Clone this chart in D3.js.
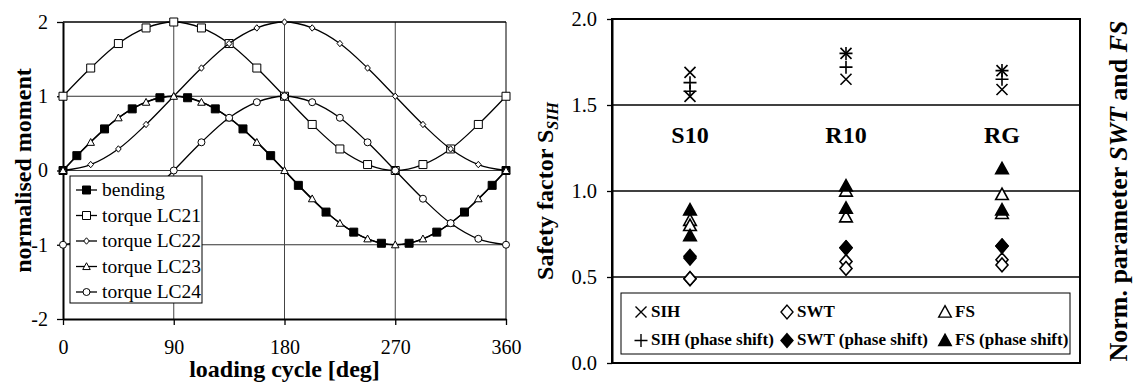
<!DOCTYPE html>
<html>
<head>
<meta charset="utf-8">
<script src="https://cdn.jsdelivr.net/npm/d3@7"></script>
<style>
  html, body { margin: 0; padding: 0; background: #fff; }
  svg text { font-family: "Liberation Serif", "Times New Roman", serif; fill: #000; }
</style>
</head>
<body>
<div id="chart"></div>
<script>
// ---------- left panel: normalised moment over one loading cycle ----------
const cycleDeg = [0, 22.5, 45, 67.5, 90, 112.5, 135, 157.5, 180, 202.5, 225, 247.5, 270, 292.5, 315, 337.5, 360];
const bendingDeg = [0, 11.25, 33.75, 56.25, 78.75, 101.25, 123.75, 146.25, 168.75, 191.25, 213.75, 236.25, 258.75, 281.25, 303.75, 326.25, 348.75, 360];
const bending = [0, 0.20, 0.56, 0.83, 0.98, 0.98, 0.83, 0.56, 0.20, -0.20, -0.56, -0.83, -0.98, -0.98, -0.83, -0.56, -0.20, 0];
const torqueLC21 = [1, 1.38, 1.71, 1.92, 2, 1.92, 1.71, 1.38, 1, 0.62, 0.29, 0.08, 0, 0.08, 0.29, 0.62, 1];
const torqueLC22 = [0, 0.08, 0.29, 0.62, 1, 1.38, 1.71, 1.92, 2, 1.92, 1.71, 1.38, 1, 0.62, 0.29, 0.08, 0];
const torqueLC23 = [0, 0.38, 0.71, 0.92, 1, 0.92, 0.71, 0.38, 0, -0.38, -0.71, -0.92, -1, -0.92, -0.71, -0.38, 0];
const torqueLC24 = [-1, -0.92, -0.71, -0.38, 0, 0.38, 0.71, 0.92, 1, 0.92, 0.71, 0.38, 0, -0.38, -0.71, -0.92, -1];
const momentTicks = [-2, -1, 0, 1, 2];
const cycleTicks = [0, 90, 180, 270, 360];

// ---------- right panel: safety factor / normalised parameters ----------
const gearTypes = ['S10', 'R10', 'RG'];
const sih = [[1.69, 1.55], [1.80, 1.65], [1.70, 1.59]];
const sihShift = [[1.63, 1.58], [1.80, 1.72], [1.70, 1.65]];
const swt = [[0.49, 0.49], [0.59, 0.55], [0.60, 0.57]];
const swtShift = [[0.62, 0.61], [0.67, 0.67], [0.68, 0.68]];
const fs = [[0.83, 0.80], [1.00, 0.85], [0.98, 0.87]];
const fsShift = [[0.89, 0.74], [1.03, 0.90], [1.13, 0.89]];
const factorTicks = [0, 0.5, 1, 1.5, 2];

// custom marker shapes, size = r*r
const shape = {
  square: { draw(c, s) { const r = Math.sqrt(s); c.rect(-r, -r, 2 * r, 2 * r); } },
  circle: { draw(c, s) { const r = Math.sqrt(s); c.moveTo(r, 0); c.arc(0, 0, r, 0, 2 * Math.PI); } },
  diamond: { draw(c, s) { const r = Math.sqrt(s); c.moveTo(0, -r * 1.15); c.lineTo(r, 0); c.lineTo(0, r * 1.15); c.lineTo(-r, 0); c.closePath(); } },
  triangle: { draw(c, s) { const r = Math.sqrt(s); c.moveTo(0, -r * 1.05); c.lineTo(r * 1.05, r * 0.85); c.lineTo(-r * 1.05, r * 0.85); c.closePath(); } },
  times: { draw(c, s) { const r = Math.sqrt(s); c.moveTo(-r, -r); c.lineTo(r, r); c.moveTo(-r, r); c.lineTo(r, -r); } },
  plus: { draw(c, s) { const r = Math.sqrt(s); c.moveTo(-r, 0); c.lineTo(r, 0); c.moveTo(0, -r); c.lineTo(0, r); } }
};
const sym = (type, r) => d3.symbol().type(shape[type]).size(r * r)();

const svg = d3.select('#chart').append('svg')
  .attr('width', 1133)
  .attr('height', 383);

// ================= LEFT PANEL =================
const x = d3.scaleLinear().domain([0, 360]).range([63, 506]);
const y = d3.scaleLinear().domain([-2, 2]).range([319, 22]);

const left = svg.append('g');

// grid
left.selectAll('.hgrid')
  .data([-1, 0, 1])
  .enter().append('line')
  .attr('x1', x(0)).attr('x2', x(360))
  .attr('y1', d => y(d)).attr('y2', d => y(d))
  .attr('stroke', '#333').attr('stroke-width', 1);

left.selectAll('.vgrid')
  .data([90, 180, 270])
  .enter().append('line')
  .attr('x1', d => x(d)).attr('x2', d => x(d))
  .attr('y1', y(2)).attr('y2', y(-2))
  .attr('stroke', '#444').attr('stroke-width', 1);

// frame top + right
left.append('line').attr('x1', x(0)).attr('x2', x(360)).attr('y1', y(2)).attr('y2', y(2))
  .attr('stroke', '#000').attr('stroke-width', 1.6);
left.append('line').attr('x1', x(360)).attr('x2', x(360)).attr('y1', y(2)).attr('y2', y(-2))
  .attr('stroke', '#000').attr('stroke-width', 1);

// axes
const yAxisL = left.append('g')
  .attr('transform', `translate(${x(0)},0)`)
  .call(d3.axisLeft(y).tickValues(momentTicks).tickSize(6).tickSizeOuter(0).tickPadding(9)
    .tickFormat(d => d < 0 ? '-' + Math.abs(d) : d));
const xAxisL = left.append('g')
  .attr('transform', `translate(0,${y(-2)})`)
  .call(d3.axisBottom(x).tickValues(cycleTicks).tickSize(6).tickSizeOuter(0).tickPadding(15));

[yAxisL, xAxisL].forEach(a => {
  a.select('.domain').attr('stroke', '#000').attr('stroke-width', 2);
  a.selectAll('.tick line').attr('stroke', '#000').attr('stroke-width', 1.3);
  a.selectAll('.tick text').style('font-size', '20px').style('font-family', '"Liberation Serif", serif');
});

// series
const leftSeries = [
  { name: 'bending', xs: bendingDeg, ys: bending, marker: 'square', r: 4, fill: '#000' },
  { name: 'torque LC21', xs: cycleDeg, ys: torqueLC21, marker: 'square', r: 4, fill: '#fff' },
  { name: 'torque LC22', xs: cycleDeg, ys: torqueLC22, marker: 'diamond', r: 2.8, fill: '#fff' },
  { name: 'torque LC23', xs: cycleDeg, ys: torqueLC23, marker: 'triangle', r: 3.6, fill: '#fff' },
  { name: 'torque LC24', xs: cycleDeg, ys: torqueLC24, marker: 'circle', r: 3.5, fill: '#fff' }
];

const line = d3.line()
  .x(d => x(d[0]))
  .y(d => y(d[1]))
  .curve(d3.curveCatmullRom.alpha(0.5));

leftSeries.forEach(s => {
  const pts = s.xs.map((v, i) => [v, s.ys[i]]);
  const g = left.append('g');
  g.append('path')
    .datum(pts)
    .attr('d', line)
    .attr('fill', 'none')
    .attr('stroke', '#000')
    .attr('stroke-width', 1.3);
  g.selectAll('.m')
    .data(pts)
    .enter().append('path')
    .attr('transform', d => `translate(${x(d[0])},${y(d[1])})`)
    .attr('d', sym(s.marker, s.r))
    .attr('fill', s.fill)
    .attr('stroke', '#000')
    .attr('stroke-width', 1);
});

// legend
const legL = left.append('g');
legL.append('rect')
  .attr('x', 70).attr('y', 176).attr('width', 132).attr('height', 127)
  .attr('fill', '#fff').attr('stroke', '#000').attr('stroke-width', 1);
leftSeries.forEach((s, i) => {
  const ly = 190 + i * 25.5;
  legL.append('line').attr('x1', 76).attr('x2', 97).attr('y1', ly).attr('y2', ly)
    .attr('stroke', '#000').attr('stroke-width', 1.3);
  legL.append('path')
    .attr('transform', `translate(86.5,${ly})`)
    .attr('d', sym(s.marker, s.r))
    .attr('fill', s.fill).attr('stroke', '#000').attr('stroke-width', 1);
  legL.append('text')
    .attr('x', 102).attr('y', ly).attr('dy', '0.33em')
    .style('font-size', '19.5px')
    .text(s.name);
});

// titles
left.append('text')
  .attr('x', (x(0) + x(360)) / 2).attr('y', 377)
  .attr('text-anchor', 'middle')
  .style('font-size', '24px').style('font-weight', 'bold')
  .text('loading cycle [deg]');
left.append('text')
  .attr('transform', `translate(23,${y(0)}) rotate(-90)`)
  .attr('text-anchor', 'middle').attr('dy', '0.35em')
  .style('font-size', '24px').style('font-weight', 'bold')
  .text('normalised moment');

// ================= RIGHT PANEL =================
const xr = d3.scaleBand().domain(gearTypes).range([612, 1080]);
const yr = d3.scaleLinear().domain([0, 2]).range([363, 19]);

const right = svg.append('g');

right.selectAll('.hgrid')
  .data([0.5, 1, 1.5])
  .enter().append('line')
  .attr('x1', 612).attr('x2', 1080)
  .attr('y1', d => yr(d)).attr('y2', d => yr(d))
  .attr('stroke', '#000').attr('stroke-width', 1.3);

right.append('rect')
  .attr('x', 612).attr('y', yr(2)).attr('width', 1080 - 612).attr('height', yr(0) - yr(2))
  .attr('fill', 'none').attr('stroke', '#000').attr('stroke-width', 2);

const yAxisR = right.append('g')
  .attr('transform', 'translate(612,0)')
  .call(d3.axisLeft(yr).tickValues(factorTicks).tickSize(5).tickSizeOuter(0).tickPadding(10)
    .tickFormat(d3.format('.1f')));
yAxisR.select('.domain').attr('stroke', '#000').attr('stroke-width', 2);
yAxisR.selectAll('.tick line').attr('stroke', '#000').attr('stroke-width', 1.3);
yAxisR.selectAll('.tick text').style('font-size', '20.5px').style('font-family', '"Liberation Serif", serif');

// category labels
right.selectAll('.cat')
  .data(gearTypes)
  .enter().append('text')
  .attr('x', d => xr(d) + xr.bandwidth() / 2)
  .attr('y', 143)
  .attr('text-anchor', 'middle')
  .style('font-size', '24px').style('font-weight', 'bold')
  .text(d => d);

const rightSeries = [
  { name: 'SIH', vals: sih, marker: 'times', r: 5.5, fill: 'none' },
  { name: 'SWT', vals: swt, marker: 'diamond', r: 6, fill: '#fff' },
  { name: 'FS', vals: fs, marker: 'triangle', r: 6, fill: '#fff' },
  { name: 'SIH (phase shift)', vals: sihShift, marker: 'plus', r: 6.5, fill: 'none' },
  { name: 'SWT (phase shift)', vals: swtShift, marker: 'diamond', r: 6, fill: '#000' },
  { name: 'FS (phase shift)', vals: fsShift, marker: 'triangle', r: 6, fill: '#000' }
];

rightSeries.forEach(s => {
  const pts = [];
  gearTypes.forEach((c, i) => s.vals[i].forEach(v => pts.push([c, v])));
  right.append('g').selectAll('path')
    .data(pts)
    .enter().append('path')
    .attr('transform', d => `translate(${xr(d[0]) + xr.bandwidth() / 2},${yr(d[1])})`)
    .attr('d', sym(s.marker, s.r))
    .attr('fill', s.fill)
    .attr('stroke', '#000')
    .attr('stroke-width', 1.6);
});

// legend
const legR = right.append('g');
legR.append('rect')
  .attr('x', 621).attr('y', 293).attr('width', 449).attr('height', 61)
  .attr('fill', '#fff').attr('stroke', '#000').attr('stroke-width', 1);
const legCols = [641, 787, 945];
rightSeries.forEach((s, i) => {
  const col = i % 3, row = Math.floor(i / 3);
  const lx = legCols[col], ly = 311 + row * 28.5;
  legR.append('path')
    .attr('transform', `translate(${lx},${ly + 1})`)
    .attr('d', sym(s.marker, s.r))
    .attr('fill', s.fill)
    .attr('stroke', '#000').attr('stroke-width', 1.4);
  legR.append('text')
    .attr('x', lx + 10).attr('y', ly).attr('dy', '0.33em')
    .style('font-size', '17px').style('font-weight', 'bold')
    .text(s.name);
});

// axis titles
const tl = right.append('text')
  .attr('transform', `translate(545,${(yr(0) + yr(2)) / 2}) rotate(-90)`)
  .attr('text-anchor', 'middle').attr('dy', '0.35em')
  .style('font-size', '24px').style('font-weight', 'bold');
tl.append('tspan').text('Safety factor S');
tl.append('tspan').attr('dy', 5).style('font-size', '16px').style('font-style', 'italic').text('SIH');

const tr = right.append('text')
  .attr('transform', `translate(1118,${(yr(0) + yr(2)) / 2}) rotate(-90)`)
  .attr('text-anchor', 'middle').attr('dy', '0.35em')
  .style('font-size', '26px').style('font-weight', 'bold');
tr.append('tspan').text('Norm. parameter ');
tr.append('tspan').style('font-style', 'italic').text('SWT');
tr.append('tspan').text(' and ');
tr.append('tspan').style('font-style', 'italic').text('FS');
</script>
</body>
</html>
